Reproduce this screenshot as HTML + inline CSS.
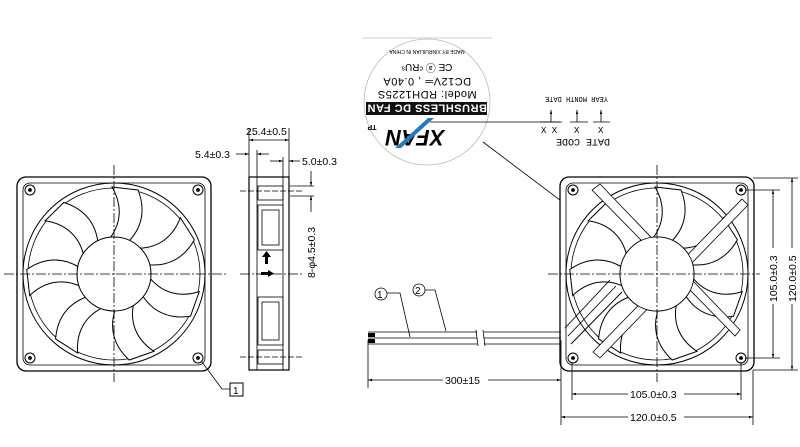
<!DOCTYPE html>
<html><head><style>
html,body{margin:0;padding:0;background:#fff;}
svg{display:block;font-family:"Liberation Sans",sans-serif;}
</style></head><body>
<svg width="800" height="447" viewBox="0 0 800 447" xmlns="http://www.w3.org/2000/svg">
<defs>
<marker id="a" viewBox="0 0 10 10" refX="10" refY="5" markerWidth="7" markerHeight="5" orient="auto-start-reverse"><path d="M0,2 L10,5 L0,8z" fill="#000"/></marker>
<g id="blade"><path d="M-4,-36 C8,-52 8,-70 -2,-87 L24,-84 C32,-64 28,-46 14,-32 Z" fill="#fff" stroke="#000" stroke-width="1"/></g>
<g id="fan">
 <rect x="-97" y="-97" width="194" height="194" rx="9" fill="#fff" stroke="#000" stroke-width="1.3"/>
 <rect x="-91" y="-91" width="182" height="182" rx="7" fill="none" stroke="#000" stroke-width="0.8"/>
 <circle r="91" fill="none" stroke="#000" stroke-width="1"/>
 <circle r="86" fill="none" stroke="#000" stroke-width="0.8"/>
 <g>
  <use href="#blade" transform="rotate(0)"/><use href="#blade" transform="rotate(51)"/><use href="#blade" transform="rotate(103)"/><use href="#blade" transform="rotate(154)"/><use href="#blade" transform="rotate(206)"/><use href="#blade" transform="rotate(257)"/><use href="#blade" transform="rotate(309)"/>
 </g>
 <circle r="37" fill="#fff" stroke="#000" stroke-width="1"/>
 <g fill="#fff" stroke="#000" stroke-width="1">
  <circle cx="-84" cy="-84" r="5"/><circle cx="84" cy="-84" r="5"/><circle cx="-84" cy="84" r="5"/><circle cx="84" cy="84" r="5"/>
 </g>
 <g fill="#000"><circle cx="-84" cy="-84" r="1.5"/><circle cx="84" cy="-84" r="1.5"/><circle cx="-84" cy="84" r="1.5"/><circle cx="84" cy="84" r="1.5"/></g>
</g>
</defs>

<g stroke="#000" fill="none" stroke-width="0.8">
<use href="#fan" transform="translate(114,274)"/>
<line x1="114" y1="165" x2="114" y2="382" stroke-dasharray="10,2,2,2"/>
<line x1="4" y1="274" x2="226" y2="274" stroke-dasharray="10,2,2,2"/>
<polyline points="202,362 222,389 230,389"/>
<rect x="230" y="383" width="13" height="13" stroke-width="1"/>
<rect x="249" y="177" width="40" height="193" fill="#fff" stroke-width="1.2"/>
<line x1="257" y1="177" x2="257" y2="370"/><line x1="283" y1="177" x2="283" y2="370"/>
<rect x="258" y="186" width="25" height="14"/>
<rect x="258" y="205" width="25" height="45"/><rect x="262" y="210" width="17" height="35"/>
<rect x="258" y="297" width="25" height="48"/><rect x="262" y="302" width="17" height="38"/>
<rect x="258" y="350" width="25" height="14"/>
<line x1="240" y1="191" x2="302" y2="191" stroke-dasharray="6,2"/>
<line x1="240" y1="357" x2="302" y2="357" stroke-dasharray="6,2"/>
<line x1="240" y1="274" x2="302" y2="274" stroke-dasharray="10,2,2,2"/>
<line x1="249" y1="128" x2="249" y2="177"/><line x1="289" y1="128" x2="289" y2="177"/>
<line x1="249" y1="140" x2="289" y2="140" marker-start="url(#a)" marker-end="url(#a)"/>
<line x1="257" y1="150" x2="257" y2="177"/>
<line x1="236" y1="154" x2="249" y2="154" marker-end="url(#a)"/>
<line x1="269" y1="154" x2="257" y2="154" marker-end="url(#a)"/>
<line x1="270" y1="161" x2="283" y2="161" marker-end="url(#a)"/><line x1="283" y1="157" x2="283" y2="177"/>
<line x1="300" y1="161" x2="289" y2="161" marker-end="url(#a)"/>
<line x1="311" y1="171" x2="311" y2="186" marker-end="url(#a)"/>
<line x1="311" y1="212" x2="311" y2="196" marker-end="url(#a)"/>
<line x1="290" y1="186" x2="314" y2="186"/><line x1="290" y1="196" x2="314" y2="196"/>
</g>
<g fill="#000">
<rect x="265" y="256" width="3" height="8"/><path d="M262,257 L266.5,251 L271,257z"/>
<rect x="261" y="272" width="8" height="3"/><path d="M268,270 L274,273.5 L268,277z"/>
</g>
<g font-size="10.5" fill="#000">
<text x="246" y="135">25.4±0.5</text>
<text x="195" y="158">5.4±0.3</text>
<text x="302" y="165">5.0±0.3</text>
<text transform="translate(315,278) rotate(-90)">8-φ4.5±0.3</text>
<text x="233" y="394" font-size="10">1</text>
</g>

<!-- LABEL -->
<line x1="362" y1="38" x2="492" y2="38" stroke="#ccc" stroke-width="1"/>
<circle cx="427" cy="102" r="63" fill="#fff" stroke="#bbb" stroke-width="0.8"/>
<rect x="366" y="102" width="121" height="13" fill="#111"/>
<g transform="rotate(180 427 100)" text-anchor="middle" fill="#000">
<text x="427" y="95.5" font-size="11" font-weight="bold" fill="#fff" letter-spacing="0.5">BRUSHLESS DC FAN</text>
<text x="427" y="109" font-size="11" letter-spacing="0.5">Model: RDH1225S</text>
<text x="427" y="122" font-size="11" letter-spacing="0.5">DC12V═ , 0.40A</text>
<text x="427" y="136" font-size="10">CE  ⓐ  ᶜRUˢ</text>
<text x="427" y="150" font-size="5">MADE BY XINRUILIAN IN CHINA</text>
<text x="439" y="70" font-size="22" font-weight="bold" font-style="italic">XFAN</text>
<text x="482" y="75" font-size="7" font-weight="bold">TP</text>
</g>
<path d="M395,148 L428,118 L434,118 L401,148z" fill="#2a7ab8"/>
<line x1="430" y1="122" x2="560" y2="122" stroke="#000" stroke-width="0.8"/>
<line x1="483" y1="142" x2="650" y2="268" stroke="#000" stroke-width="0.8"/>
<g stroke="#000" stroke-width="0.8" fill="none">
<line x1="540" y1="122" x2="562" y2="122"/><line x1="570" y1="122" x2="588" y2="122"/><line x1="593" y1="122" x2="610" y2="122"/>
<line x1="551" y1="122" x2="551" y2="110" marker-end="url(#a)"/>
<line x1="577" y1="122" x2="577" y2="110" marker-end="url(#a)"/>
<line x1="601" y1="122" x2="601" y2="110" marker-end="url(#a)"/>
</g>
<g font-family="Liberation Mono,monospace" font-size="9" fill="#000">
<text x="541" y="133">X X</text><text x="574" y="133">X</text><text x="598" y="133">X</text>
<g transform="rotate(180 574 104)"><text x="540" y="111" font-size="7">YEAR MONTH  DATE</text></g>
<g transform="rotate(180 574 143)"><text x="538" y="147" font-size="10">DATE  CODE</text></g>
</g>

<!-- RIGHT FAN -->
<g stroke="#000" fill="none" stroke-width="0.8">
<use href="#fan" transform="translate(657,274)"/>
<path d="M600,184 L740,330 L735,336 L592,190z" fill="#fff"/>
<path d="M748,205 L600,358 L593,352 L742,199z" fill="#fff"/>
<circle cx="657" cy="274" r="37" fill="#fff"/>
<path d="M565,328 L610,280 M568,336 L616,286 M571,344 L622,292" stroke-width="0.9"/>
<line x1="657" y1="165" x2="657" y2="382" stroke-dasharray="10,2,2,2"/>
<line x1="548" y1="274" x2="760" y2="274" stroke-dasharray="10,2,2,2"/>
<path d="M368,332 H477 M368,338 H477 M368,344 H477 M484,332 H561 M484,338 H561 M484,344 H561"/>
<path d="M476,330 L478,346 M483,330 L485,346"/>
<polyline points="387,293 400,293 410,337"/><circle cx="381" cy="294" r="6"/>
<polyline points="425,290 435,290 446,331"/><circle cx="419" cy="290" r="6"/>
<line x1="368" y1="340" x2="368" y2="388"/>
<line x1="561" y1="340" x2="561" y2="425"/><line x1="753" y1="370" x2="753" y2="425"/>
<line x1="572" y1="362" x2="572" y2="400"/><line x1="741" y1="362" x2="741" y2="400"/>
<line x1="368" y1="380" x2="561" y2="380" marker-start="url(#a)" marker-end="url(#a)"/>
<line x1="572" y1="394" x2="741" y2="394" marker-start="url(#a)" marker-end="url(#a)"/>
<line x1="561" y1="417" x2="753" y2="417" marker-start="url(#a)" marker-end="url(#a)"/>
<line x1="745" y1="190" x2="780" y2="190"/><line x1="745" y1="358" x2="780" y2="358"/>
<line x1="753" y1="178" x2="798" y2="178"/><line x1="753" y1="370" x2="798" y2="370"/>
<line x1="773" y1="190" x2="773" y2="358" marker-start="url(#a)" marker-end="url(#a)"/>
<line x1="792" y1="178" x2="792" y2="370" marker-start="url(#a)" marker-end="url(#a)"/>
</g>
<g fill="#000">
<rect x="368" y="333" width="7" height="4"/><rect x="368" y="339" width="7" height="4"/>
</g>
<g font-size="10.5" fill="#000">
<rect x="443" y="374" width="45" height="12" fill="#fff"/>
<text x="445" y="384">300±15</text>
<rect x="628" y="388" width="56" height="12" fill="#fff"/>
<text x="630" y="398">105.0±0.3</text>
<rect x="628" y="411" width="56" height="12" fill="#fff"/>
<text x="630" y="421">120.0±0.5</text>
<g transform="translate(777,302) rotate(-90)"><rect x="-2" y="-10" width="56" height="12" fill="#fff"/><text x="0" y="0">105.0±0.3</text></g>
<g transform="translate(796,302) rotate(-90)"><rect x="-2" y="-10" width="56" height="12" fill="#fff"/><text x="0" y="0">120.0±0.5</text></g>
<text x="377" y="298" font-size="10">1</text>
<text x="415" y="294" font-size="10">2</text>
</g>
</svg>
</body></html>
